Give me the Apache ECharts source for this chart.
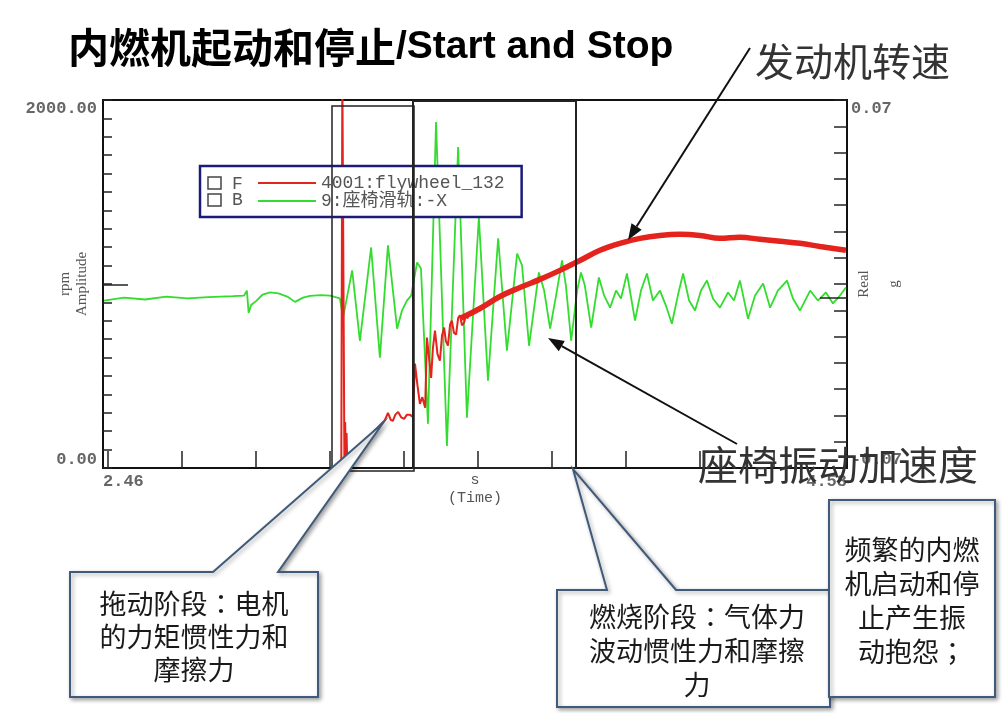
<!DOCTYPE html>
<html><head><meta charset="utf-8">
<script src="https://cdn.jsdelivr.net/npm/echarts@6/dist/echarts.min.js"></script>
<style>html,body{margin:0;padding:0;background:#fff}#c{width:1005px;height:713px}</style>
</head><body><div id="c"></div>
<script>
// ---- axis ticks / labels ----
const timeTicks = [2.474, 2.685, 2.896, 3.107, 3.318, 3.529, 3.739, 3.950, 4.161, 4.372];
const timeLabels = [2.46, 4.58];
const rpmLabels = [0, 2000];
const gLabels = [-0.07, 0.07];
const seriesNames = ['4001:flywheel_132', '9:座椅滑轨:-X'];

// ---- flywheel speed (rpm), start-up transient ----
const flyEarlyT = [3.139,3.142,3.146,3.148,3.150,3.152,3.154,3.156,3.160,3.175,3.192,3.210,3.227,3.245,3.255,3.263,3.272,3.280,3.286,3.293,3.301,3.310,3.318,3.326,3.335,3.343,3.349,3.356,3.363,3.370,3.378,3.383,3.389,3.395,3.400,3.406,3.413,3.420,3.426,3.432,3.437,3.443,3.449,3.454,3.460,3.466,3.472,3.477,3.483,3.489,3.495,3.500];
const flyEarlyRpm = [0,2150,2150,0,250,40,190,30,70,95,125,160,190,225,245,260,300,262,256,290,305,275,267,290,289,278,567,450,349,385,327,709,600,490,650,747,620,583,720,763,690,665,780,801,735,725,815,830,775,790,840,812];
// ---- flywheel speed (rpm), combustion / running (rippled band) ----
const flyLateT = [3.480,3.534,3.591,3.648,3.705,3.762,3.819,3.876,3.933,3.990,4.047,4.104,4.161,4.218,4.275,4.332,4.389,4.446,4.503,4.577];
const flyLateRpm = [815,867,932,981,1025,1074,1128,1183,1221,1248,1264,1270,1264,1248,1254,1243,1232,1221,1204,1183];

// ---- seat rail acceleration (g) ----
const seatT = [2.463,2.52,2.58,2.64,2.70,2.76,2.83,2.862,2.870,2.875,2.882,2.896,2.915,2.936,2.96,2.985,3.007,3.03,3.05,3.08,3.107,3.135,3.144,3.170,3.192,3.224,3.249,3.272,3.298,3.312,3.326,3.338,3.355,3.366,3.386,3.409,3.440,3.472,3.497,3.531,3.557,3.586,3.611,3.640,3.654,3.674,3.702,3.717,3.734,3.751,3.768,3.779,3.794,3.811,3.822,3.833,3.851,3.873,3.888,3.905,3.922,3.936,3.953,3.976,3.993,4.010,4.027,4.047,4.064,4.081,4.098,4.113,4.130,4.147,4.164,4.181,4.198,4.218,4.241,4.258,4.275,4.298,4.318,4.341,4.361,4.383,4.409,4.426,4.446,4.475,4.497,4.520,4.540,4.560,4.577];
const seatG = [-0.0063,-0.0052,-0.0059,-0.0048,-0.0055,-0.0050,-0.0046,-0.0044,-0.0025,-0.0110,-0.0080,-0.0065,-0.0040,-0.0032,-0.0036,-0.0048,-0.0068,-0.0052,-0.0045,-0.0042,-0.0044,-0.0055,-0.0128,0.0052,-0.0216,0.0139,-0.0280,0.0147,-0.0170,-0.0101,-0.0063,-0.0044,0.0082,0.0059,-0.0532,0.0616,-0.0616,0.0521,-0.0509,0.0254,-0.0368,0.0174,-0.0254,0.0116,0.0071,-0.0235,0.0044,-0.0025,-0.0170,-0.0044,0.0090,-0.0006,-0.0216,-0.0025,0.0044,-0.0006,-0.0166,0.0025,-0.0044,-0.0090,-0.0025,-0.0055,0.0040,-0.0139,-0.0025,0.0040,-0.0063,-0.0025,-0.0082,-0.0151,-0.0044,0.0040,-0.0063,-0.0101,-0.0025,0.0013,-0.0055,-0.0090,-0.0032,-0.0063,0.0013,-0.0132,-0.0044,0.0002,-0.0090,-0.0025,0.0013,-0.0055,-0.0101,-0.0025,-0.0063,-0.0032,-0.0074,-0.0044,-0.0013];

const zip = (a, b) => a.map((v, i) => [v, b[i]]);
const MONO = "'Liberation Mono','Noto Sans CJK SC',monospace";
const SERIF = "'Liberation Serif','DejaVu Serif',serif";
const CJK = "'Noto Sans CJK SC','Noto Sans',sans-serif";
const RED = '#e4231c', GREEN = '#33dc2e';

const chart = echarts.init(document.getElementById('c'), null, {renderer: 'canvas'});
const boxStyle = {fill: '#fff', stroke: '#3f5b79', lineWidth: 2, shadowBlur: 4, shadowColor: 'rgba(0,0,0,0.35)', shadowOffsetX: 2, shadowOffsetY: 2};
const boxText = {fontFamily: CJK, fontSize: 27, fill: '#1a1a1a'};
const colonRich = {c: {fontFamily: "'Noto Sans CJK TC','Noto Sans CJK JP',sans-serif", fontSize: 27, fill: '#1a1a1a'}};

chart.setOption({
  animation: false,
  backgroundColor: '#fff',
  grid: {left: 103, right: 158, top: 100, bottom: 245, show: true, borderColor: '#111', borderWidth: 2, containLabel: false, outerBoundsMode: 'none'},
  legend: {
    data: seriesNames, orient: 'vertical', left: 200, top: 166, selectedMode: false,
    icon: 'rect', itemWidth: 58, itemHeight: 2, itemGap: 0,
    padding: [8, 17, 7, 58], borderColor: '#1c1c78', borderWidth: 2.5, backgroundColor: '#fff',
    textStyle: {fontFamily: MONO, fontSize: 18, color: '#555', lineHeight: 16}, z: 20
  },
  xAxis: {
    type: 'value', min: 2.46, max: 4.58,
    axisLine: {show: true, lineStyle: {color: '#111', width: 2}},
    axisTick: {show: true, inside: true, length: 17, customValues: timeTicks, lineStyle: {color: '#222', width: 1.5}},
    axisLabel: {customValues: timeLabels, formatter: v => v.toFixed(2), alignMinLabel: 'left', alignMaxLabel: 'right', margin: 5, fontFamily: MONO, fontSize: 17, fontWeight: 'bold', color: '#666'},
    splitLine: {show: false},
    name: 's\n(Time)', nameLocation: 'middle', nameGap: 3, nameMoveOverlap: false,
    nameTextStyle: {fontFamily: MONO, fontSize: 15, lineHeight: 18, color: '#555', verticalAlign: 'top'}
  },
  yAxis: [{
    type: 'value', min: 0, max: 2000, interval: 100, position: 'left',
    axisLine: {show: true, lineStyle: {color: '#111', width: 2}},
    axisTick: {show: true, inside: true, length: 9, lineStyle: {color: '#222', width: 1.5}},
    axisLabel: {customValues: rpmLabels, formatter: v => v.toFixed(2), verticalAlignMinLabel: 'bottom', verticalAlignMaxLabel: 'top', margin: 6, fontFamily: MONO, fontSize: 17, fontWeight: 'bold', color: '#666'},
    splitLine: {show: false},
    name: 'rpm\nAmplitude', nameLocation: 'middle', nameRotate: 90, nameGap: 12, nameMoveOverlap: false,
    nameTextStyle: {fontFamily: SERIF, fontSize: 15, lineHeight: 17, color: '#555'}
  }, {
    type: 'value', min: -0.07, max: 0.07, interval: 0.01, position: 'right',
    axisLine: {show: true, lineStyle: {color: '#111', width: 2}},
    axisTick: {show: true, inside: true, length: 13, lineStyle: {color: '#222', width: 1.5}},
    axisLabel: {customValues: gLabels, formatter: v => v.toFixed(2), verticalAlignMinLabel: 'bottom', verticalAlignMaxLabel: 'top', margin: 4, fontFamily: MONO, fontSize: 17, fontWeight: 'bold', color: '#666'},
    splitLine: {show: false},
    name: 'Real\ng', nameLocation: 'middle', nameRotate: 90, nameGap: 2, nameMoveOverlap: false,
    nameTextStyle: {fontFamily: SERIF, fontSize: 15, lineHeight: 30, color: '#555'}
  }],
  series: [
    {name: seriesNames[1], type: 'line', yAxisIndex: 1, data: zip(seatT, seatG), symbol: 'none', color: GREEN, lineStyle: {width: 1.8, color: GREEN}, z: 2},
    {name: seriesNames[0], type: 'line', yAxisIndex: 0, data: zip(flyEarlyT, flyEarlyRpm), symbol: 'none', color: RED, lineStyle: {width: 2, color: RED}, z: 3},
    {name: seriesNames[0], type: 'line', yAxisIndex: 0, data: zip(flyLateT, flyLateRpm), symbol: 'none', smooth: 0.4, color: RED, lineStyle: {width: 5.5, color: RED}, z: 3}
  ],
  graphic: [
    // title
    {type: 'text', x: 68, y: 47, z: 50, style: {text: '{a|内燃机起动和停止}{b|/Start and Stop}', verticalAlign: 'middle', fill: '#000',
      rich: {a: {fontFamily: CJK, fontSize: 41, fontWeight: 'bold', fill: '#000'}, b: {fontFamily: "'Liberation Sans',Arial,sans-serif", fontSize: 39, fontWeight: 'bold', fill: '#000'}}}},
    // long ticks
    {type: 'line', z: 30, shape: {x1: 103, y1: 285, x2: 128, y2: 285}, style: {stroke: '#222', lineWidth: 1.5}},
    {type: 'line', z: 30, shape: {x1: 820, y1: 298, x2: 847, y2: 298}, style: {stroke: '#222', lineWidth: 1.5}},
    // stage frames
    {type: 'rect', z: 30, shape: {x: 332, y: 106, width: 82, height: 365}, style: {fill: 'none', stroke: '#222', lineWidth: 1.5}},
    {type: 'rect', z: 30, shape: {x: 413, y: 101, width: 163, height: 367}, style: {fill: 'none', stroke: '#222', lineWidth: 2}},
    // legend markers
    {type: 'rect', z: 40, shape: {x: 208, y: 177, width: 13, height: 12}, style: {fill: 'none', stroke: '#444', lineWidth: 1.5}},
    {type: 'rect', z: 40, shape: {x: 208, y: 194, width: 13, height: 12}, style: {fill: 'none', stroke: '#444', lineWidth: 1.5}},
    {type: 'text', z: 40, x: 232, y: 184, style: {text: 'F', fontFamily: MONO, fontSize: 18, fill: '#555', verticalAlign: 'middle'}},
    {type: 'text', z: 40, x: 232, y: 200, style: {text: 'B', fontFamily: MONO, fontSize: 18, fill: '#555', verticalAlign: 'middle'}},
    // annotations
    {type: 'text', z: 50, x: 755, y: 61, style: {text: '发动机转速', fontFamily: CJK, fontSize: 39, fill: '#333', verticalAlign: 'middle'}},
    {type: 'line', z: 50, shape: {x1: 750, y1: 48, x2: 636.6, y2: 226.5}, style: {stroke: '#111', lineWidth: 2}},
    {type: 'polygon', z: 50, shape: {points: [[628, 240], [641.7, 229.7], [631.5, 223.3]]}, style: {fill: '#111'}},
    {type: 'text', z: 50, x: 698, y: 465, style: {text: '座椅振动加速度', fontFamily: CJK, fontSize: 40, fill: '#333', verticalAlign: 'middle'}},
    {type: 'line', z: 50, shape: {x1: 737, y1: 444, x2: 561.8, y2: 346.1}, style: {stroke: '#111', lineWidth: 2}},
    {type: 'polygon', z: 50, shape: {points: [[548, 338], [564.8, 340.9], [558.8, 351.3]]}, style: {fill: '#111'}},
    // callout boxes
    {type: 'polygon', z: 60, shape: {points: [[70, 572], [213, 572], [383, 423], [278, 572], [318, 572], [318, 697], [70, 697]]}, style: boxStyle},
    {type: 'text', z: 61, x: 194, y: 637, style: Object.assign({text: '拖动阶段{c|：}电机\n的力矩惯性力和\n摩擦力', lineHeight: 33, align: 'center', verticalAlign: 'middle', rich: colonRich}, boxText)},
    {type: 'polygon', z: 60, shape: {points: [[557, 590], [607, 590], [573, 469], [676, 590], [830, 590], [830, 707], [557, 707]]}, style: boxStyle},
    {type: 'text', z: 61, x: 697, y: 651, style: Object.assign({text: '燃烧阶段{c|：}气体力\n波动惯性力和摩擦\n力', lineHeight: 34, align: 'center', verticalAlign: 'middle', rich: colonRich}, boxText)},
    {type: 'rect', z: 62, shape: {x: 829, y: 500, width: 166, height: 197}, style: boxStyle},
    {type: 'text', z: 63, x: 912, y: 601, style: Object.assign({text: '频繁的内燃\n机启动和停\n止产生振\n动抱怨{c|；}', lineHeight: 34, align: 'center', verticalAlign: 'middle', rich: colonRich}, boxText)}
  ]
});
</script></body></html>
